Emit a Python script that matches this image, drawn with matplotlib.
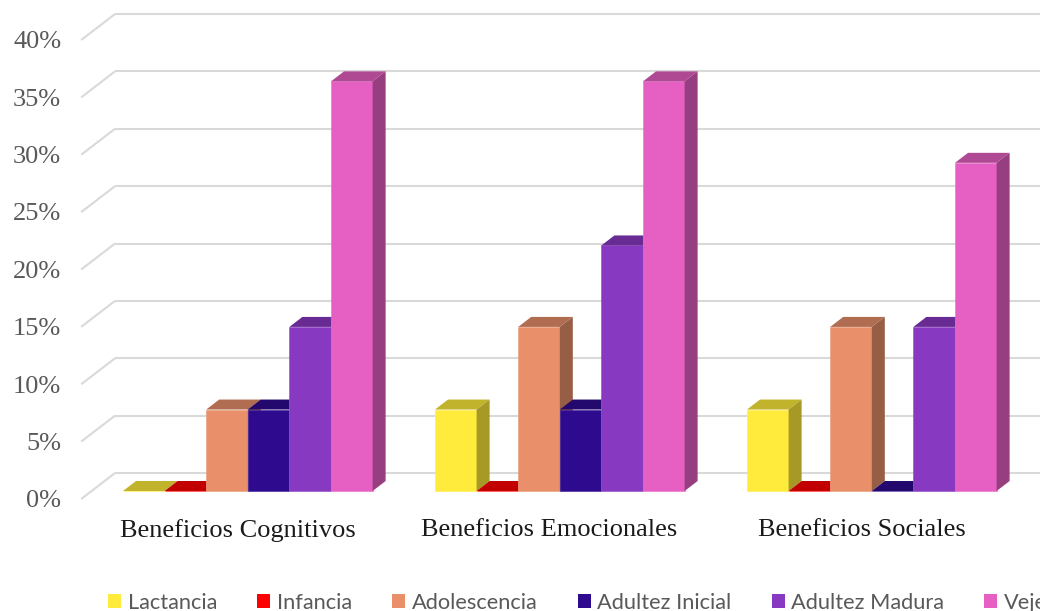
import numpy as np
import matplotlib
matplotlib.use("Agg")
import matplotlib.pyplot as plt
from matplotlib.patches import Polygon, Patch
from matplotlib.colors import to_rgb

categories = ["Beneficios Cognitivos", "Beneficios Emocionales", "Beneficios Sociales"]
series = ["Lactancia", "Infancia", "Adolescencia", "Adultez Inicial", "Adultez Madura", "Vejez"]
lactancia = [0.0, 7.1, 7.1]
infancia = [0.0, 0.0, 0.0]
adolescencia = [7.1, 14.3, 14.3]
adultez_inicial = [7.1, 7.1, 0.0]
adultez_madura = [14.3, 21.4, 14.3]
vejez = [35.7, 35.7, 28.6]
colors = ["#FFEB3B", "#FF0000", "#E9906B", "#2E0A8F", "#8739C2", "#E660C3"]
yticks = [0, 5, 10, 15, 20, 25, 30, 35, 40]

values = [lactancia, infancia, adolescencia, adultez_inicial, adultez_madura, vejez]

# oblique 3D look: one unit of depth moves a point right and up
DX, DY = 0.3125, 0.87
Z_WALL, Z_FRONT = 1.8, -0.8
GROUP_STEP = 7.5          # six bars plus a 150% gap
X_LEFT = -0.755           # left edge of the floor/back wall

def shade(c, f):
    r, g, b = to_rgb(c)
    return (r * f, g * f, b * f)

def lighten(c, f):
    r, g, b = to_rgb(c)
    return (r + (1 - r) * f, g + (1 - g) * f, b + (1 - b) * f)

fig = plt.figure(figsize=(10.4, 6.11), dpi=100)
ax = fig.add_axes([0, 0, 1, 1])
ax.set_xlim(-2.957, 22.043)
ax.set_ylim(-10.458, 42.789)
ax.axis("off")

grid_c = "#D9D9D9"
tick_font = "Liberation Serif"
for v in yticks:
    x0, y0 = X_LEFT + Z_FRONT * DX, v + Z_FRONT * DY
    x1, y1 = X_LEFT + Z_WALL * DX, v + Z_WALL * DY
    ax.plot([x0, x1], [y0, y1], color=grid_c, lw=1.5, zorder=1, solid_capstyle="butt")
    ax.plot([x1, 30], [y1, y1], color=grid_c, lw=1.5, zorder=1, solid_capstyle="butt")
    ax.text(x0 - 0.48, y0 - 0.2, f"{v}%", ha="right", va="center", fontsize=19,
            family=tick_font, color="#595959")

z = 2.0
for g, cat in enumerate(categories):
    base = g * GROUP_STEP
    for s, vals in enumerate(values):
        x = base + s
        v = vals[g]
        c = colors[s]
        ax.bar(x, v, width=1, align="edge", color=c, edgecolor=lighten(c, 0.15),
               linewidth=0.5, zorder=z)
        top = Polygon([(x, v), (x + 1, v), (x + 1 + DX, v + DY), (x + DX, v + DY)],
                      closed=True, facecolor=shade(c, 0.76), edgecolor="none", zorder=z + 0.001)
        side = Polygon([(x + 1, 0), (x + 1, v), (x + 1 + DX, v + DY), (x + 1 + DX, DY)],
                       closed=True, facecolor=shade(c, 0.65), edgecolor="none", zorder=z + 0.002)
        ax.add_patch(top)
        ax.add_patch(side)
        z += 0.01
    cx = base + 3 + Z_FRONT * DX
    ax.text(cx, -3.4, cat, ha="center", va="center", fontsize=19,
            family=tick_font, color="#1A1A1A")

handles = [Patch(facecolor=c, edgecolor="none") for c in colors]
fig.legend(handles, series, ncol=6, loc="center left",
           bbox_to_anchor=(108 / 1040, 1 - 603 / 611), frameon=False,
           prop={"family": "Lato", "size": 15.65}, labelcolor="#595959",
           handlelength=0.6, handleheight=0.6, handletextpad=0.3,
           columnspacing=1.85, borderpad=0, borderaxespad=0)

fig.savefig("out.png", dpi=100)
